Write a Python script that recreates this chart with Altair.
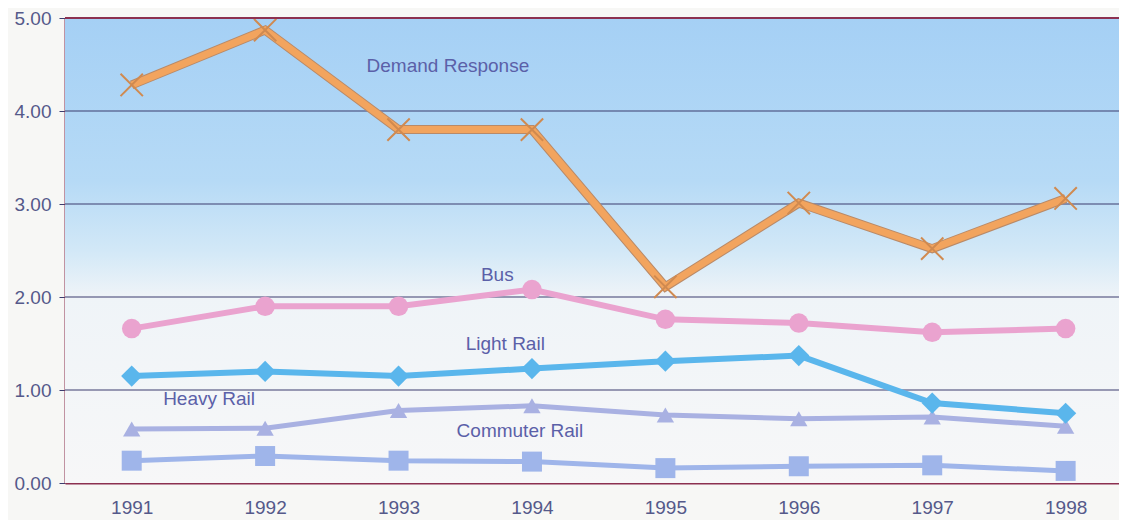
import altair as alt
import pandas as pd

years = [1991, 1992, 1993, 1994, 1995, 1996, 1997, 1998]
demand_response = [4.28, 4.87, 3.80, 3.80, 2.11, 3.01, 2.52, 3.06]
bus = [1.66, 1.90, 1.90, 2.08, 1.76, 1.72, 1.62, 1.66]
light_rail = [1.15, 1.20, 1.15, 1.23, 1.31, 1.37, 0.86, 0.75]
heavy_rail = [0.58, 0.59, 0.78, 0.83, 0.73, 0.69, 0.71, 0.61]
commuter_rail = [0.24, 0.29, 0.24, 0.23, 0.16, 0.18, 0.19, 0.13]
y_ticks = [0, 1, 2, 3, 4, 5]

label_text = ["Demand Response", "Bus", "Light Rail", "Heavy Rail", "Commuter Rail"]
label_year = [1993.37, 1993.74, 1993.80, 1991.58, 1993.91]
label_value = [4.48, 2.24, 1.50, 0.90, 0.56]

series = {
    "Demand Response": demand_response,
    "Bus": bus,
    "Light Rail": light_rail,
    "Heavy Rail": heavy_rail,
    "Commuter Rail": commuter_rail,
}

rows = []
for name, vals in series.items():
    for yr, v in zip(years, vals):
        rows.append({"series": name, "year": yr, "value": v})
df = pd.DataFrame(rows)

W, H = 1054, 465
xs = alt.Scale(domain=[1990.5, 1998.4], nice=False, zero=False)
ys = alt.Scale(domain=[0, 5], nice=False)

x_axis = alt.Axis(values=years, format="d", title=None, grid=False, ticks=False,
                  domainColor="#8c3050", domainWidth=2, labelFont="Liberation Sans",
                  labelFontSize=19, labelColor="#55598a", labelPadding=15)
y_axis = alt.Axis(values=y_ticks, format=".2f", title=None, grid=False,
                  tickSize=6, tickColor="#3c3c6e", domainColor="#8c3050", domainWidth=2,
                  labelFont="Liberation Sans", labelFontSize=19, labelColor="#55598a",
                  labelPadding=8)

bg = alt.Chart(pd.DataFrame({"a": [0]})).mark_rect(
    fill=alt.Gradient(
        gradient="linear", x1=0, y1=0, x2=0, y2=1,
        stops=[
            alt.GradientStop(color="#a5d0f5", offset=0),
            alt.GradientStop(color="#b6daf6", offset=0.35),
            alt.GradientStop(color="#d2e8f7", offset=0.5),
            alt.GradientStop(color="#eff4f8", offset=0.6),
            alt.GradientStop(color="#f7f7f8", offset=1),
        ],
    )
).encode(x=alt.value(0), x2=alt.value(W), y=alt.value(0), y2=alt.value(H))


def enc():
    return dict(
        x=alt.X("year:Q", scale=xs, axis=x_axis),
        y=alt.Y("value:Q", scale=ys, axis=y_axis),
    )


grid = alt.Chart(pd.DataFrame({"value": y_ticks[1:]})).mark_rule(
    color="#3c3c6e", strokeWidth=1.2
).encode(y=alt.Y("value:Q", scale=ys, axis=y_axis))

top_border = alt.Chart(pd.DataFrame({"a": [0]})).mark_rule(
    color="#8c3050", strokeWidth=2
).encode(x=alt.value(0), x2=alt.value(W), y=alt.value(0))

base = alt.Chart(df)


def series_layers(name, color, width, shape, size, filled=True, under=None, mcolor=None):
    layers = []
    f = base.transform_filter(alt.datum.series == name)
    if under:
        layers.append(f.mark_line(color=under, strokeWidth=width + 2).encode(**enc()))
    layers.append(f.mark_line(color=color, strokeWidth=width).encode(**enc()))
    if filled:
        layers.append(f.mark_point(shape=shape, size=size, filled=True, color=mcolor or color,
                                   opacity=1).encode(**enc()))
    else:
        layers.append(f.mark_point(shape=shape, size=size, filled=False, color=mcolor or color,
                                   strokeWidth=2, opacity=1).encode(**enc()))
    return layers


layers = [bg, grid]
layers += series_layers("Commuter Rail", "#9fb5ea", 5, "square", 400)
layers += series_layers("Heavy Rail", "#a9b1e2", 5, "triangle-up", 300)
layers += series_layers("Bus", "#eaa3cf", 6, "circle", 380)
layers += series_layers("Light Rail", "#5ab6ec", 6, "diamond", 450)
layers += series_layers("Demand Response", "#f2a45e", 7, "M-1,-1L1,1M1,-1L-1,1", 500,
                        filled=False, under="#b98a68", mcolor="#d08a50")

labels = alt.Chart(pd.DataFrame({"text": label_text, "year": label_year, "value": label_value})).mark_text(
    font="Liberation Sans", fontSize=19, color="#5b60a8", align="center", baseline="middle"
).encode(
    x=alt.X("year:Q", scale=xs, axis=x_axis),
    y=alt.Y("value:Q", scale=ys, axis=y_axis),
    text="text:N",
)
layers += [labels, top_border]

chart = alt.layer(*layers).properties(
    width=W, height=H,
    autosize=alt.AutoSizeParams(type="none"),
    padding={"left": 57, "top": 10, "right": 0, "bottom": 38},
    background="#f7f7f5",
).configure_view(stroke=None)

chart.save("out.html", embed_options={"renderer": "svg", "actions": False})
